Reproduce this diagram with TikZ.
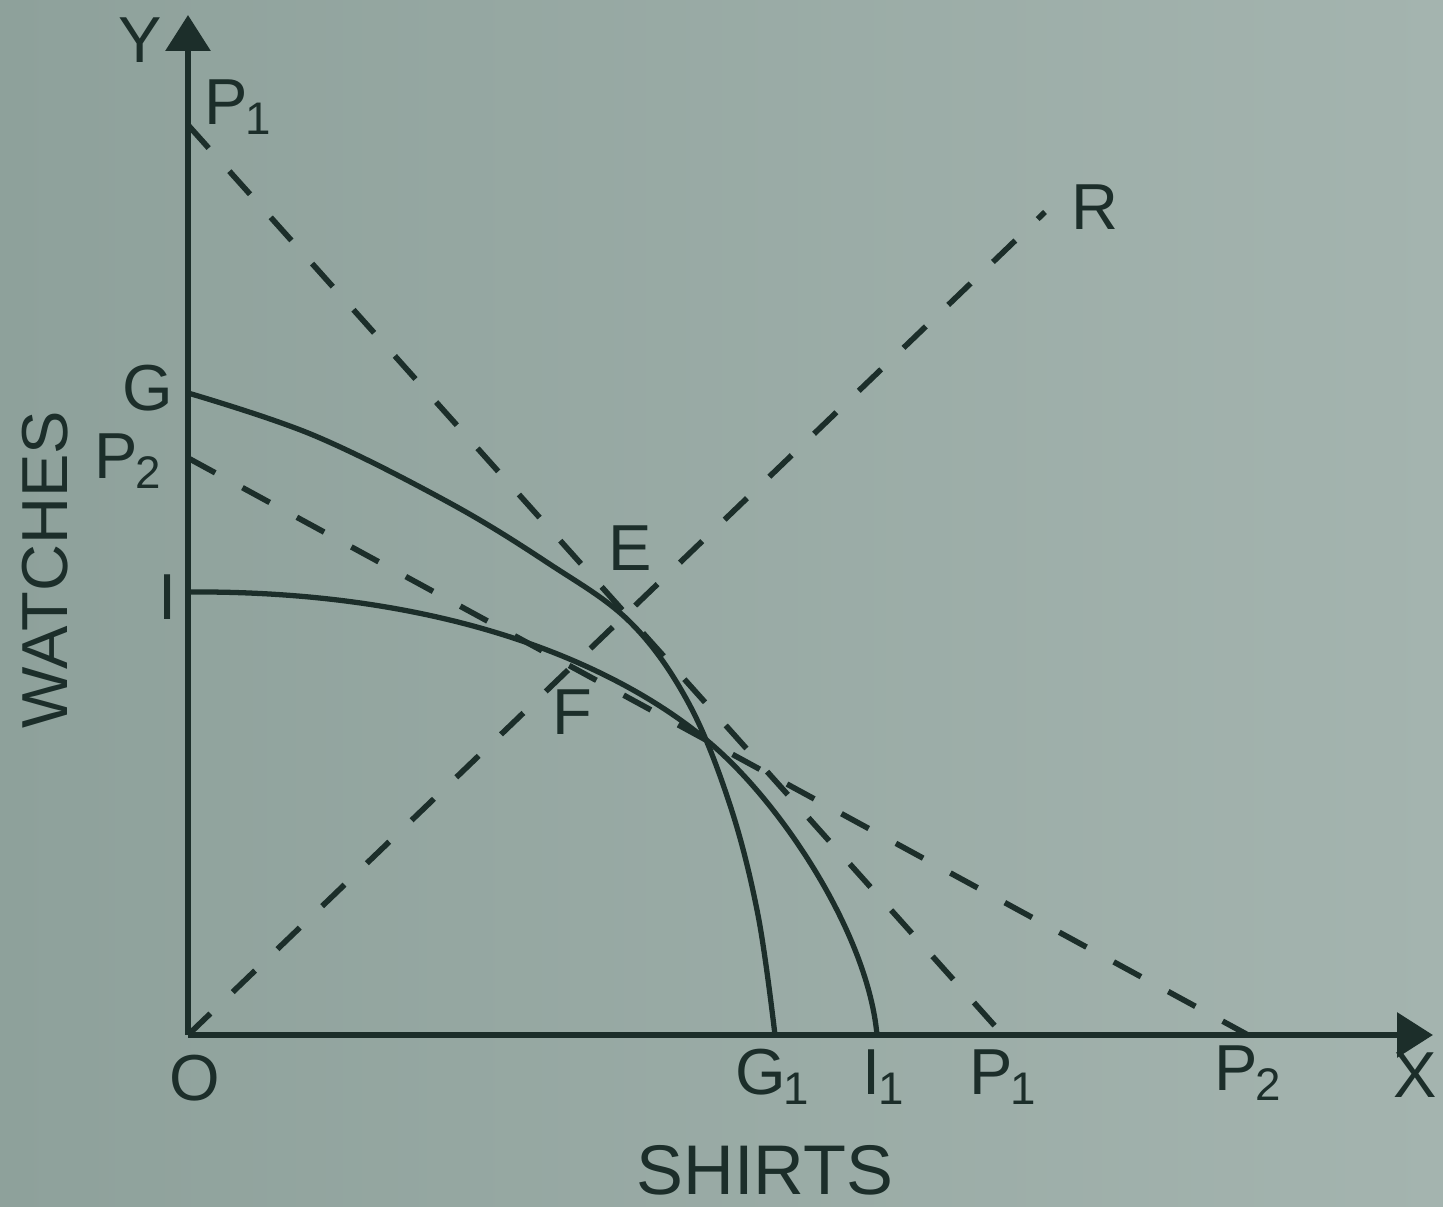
\documentclass[tikz,border=0pt]{standalone}
\usepackage{fontspec}
\setmainfont{Liberation Sans}
\usetikzlibrary{arrows.meta}
\definecolor{paperL}{RGB}{142,161,155}
\definecolor{paperR}{RGB}{164,180,175}
\definecolor{ink}{RGB}{28,46,42}
\tikzset{axis/.style={ink, line width=1.8pt, -{Triangle[width=4.4mm,length=3.6mm]}},
  ppc/.style={ink, line width=1.5pt},
  price/.style={ink, line width=1.6pt, dash pattern=on 3.1mm off 3.1mm},
  lbl/.style={text=ink, font=\fontsize{18.5}{20}\selectfont, inner sep=0pt}}
\newcommand{\sub}[1]{\kern-0.6pt\raisebox{-0.3ex}{\fontsize{13}{13}\selectfont #1}}

\begin{document}
\begin{tikzpicture}
\shade[left color=paperL, right color=paperR] (-1.88,-1.71) rectangle (12.55,10.35);
\useasboundingbox (-1.88,-1.71) rectangle (12.55,10.35);
% points on the axes
\coordinate (O) at (0,0);
\coordinate (Ytip) at (0,10.2);
\coordinate (Xtip) at (12.45,0);
\coordinate (G) at (0,6.42);
\coordinate (I) at (0,4.43);
\coordinate (P1y) at (0,9.10);
\coordinate (P2y) at (0,5.77);
\coordinate (G1) at (5.87,0);
\coordinate (I1) at (6.89,0);
\coordinate (P1x) at (8.15,0);
\coordinate (P2x) at (10.6,0);
\coordinate (E) at (4.42,4.13);
\coordinate (K) at (5.22,2.92);
\coordinate (R) at (8.57,8.23);
% axes
\draw[axis] (O) -- (Ytip);
\draw[axis] (O) -- (Xtip);
% price lines and the ray OR
\draw[price] (P1y) -- (P1x);
\draw[price] (P2y) -- (P2x);
\draw[price] (O) -- (R);
% the two production possibility curves
\draw[ppc] plot[smooth, tension=0.6] coordinates {(G) (1.25,6.0) (2.6,5.33) (3.6,4.72) (E) (5.0,3.33) (5.42,2.3) (5.70,1.2) (G1)};
\draw[ppc] (I) .. controls (2.8,4.45) and (4.45,3.58) .. (K) .. controls (5.95,2.3) and (6.8,1.0) .. (I1);
% labels
\node[lbl] (labY) at (-0.48,9.95) {Y};
\node[lbl] (labX) at (12.27,-0.40) {X};
\node[lbl] (labO) at (0.07,-0.43) {O};
\node[lbl] (labP1y) at (0.50,9.28) {P\sub{1}};
\node[lbl] (labG) at (-0.40,6.47) {G};
\node[lbl] (labP2y) at (-0.60,5.74) {P\sub{2}};
\node[lbl] (labI) at (-0.20,4.38) {I};
\node[lbl] (labE) at (4.42,4.87) {E};
\node[lbl] (labF) at (3.84,3.23) {F};
\node[lbl] (labR) at (9.07,8.28) {R};
\node[lbl] (labG1) at (5.84,-0.42) {G\sub{1}};
\node[lbl] (labI1) at (6.95,-0.42) {I\sub{1}};
\node[lbl] (labP1x) at (8.15,-0.42) {P\sub{1}};
\node[lbl] (labP2x) at (10.60,-0.38) {P\sub{2}};
\node[lbl, rotate=90] (labW) at (-1.43,4.65) {WATCHES};
\node[lbl, font=\fontsize{20}{22}\selectfont] (labS) at (5.77,-1.35) {SHIRTS};
\end{tikzpicture}
\end{document}
